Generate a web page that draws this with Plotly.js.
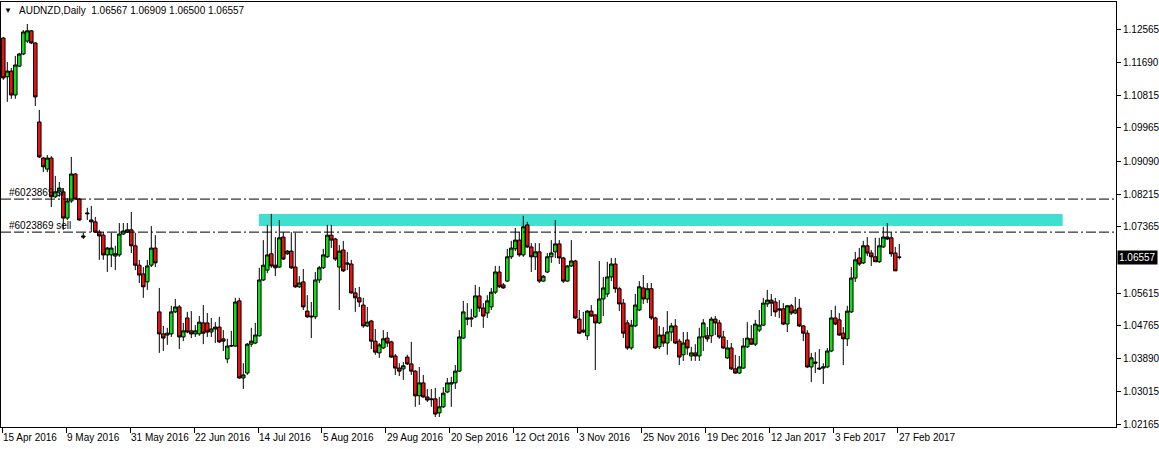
<!DOCTYPE html>
<html>
<head>
<meta charset="utf-8">
<script src="https://cdn.plot.ly/plotly-3.0.1.min.js"></script>
<style>html,body{margin:0;padding:0;background:#fff;}#chart{width:1159px;height:449px;}</style>
</head>
<body>
<div id="chart"></div>
<script>
const symbolTitle = "AUDNZD,Daily  1.06567 1.06909 1.06500 1.06557";
const lastPrice = 1.06557;
const slPrice = 1.0809;
const sellPrice = 1.0722;
const slLabel = "#6023869 sl";
const sellLabel = "#6023869 sell";
const zoneTop = 1.0770;
const zoneBottom = 1.0738;
const zoneStartBar = 63.9;
const zoneEndBar = 264.85;

const dateLabels = ["15 Apr 2016","9 May 2016","31 May 2016","22 Jun 2016","14 Jul 2016","5 Aug 2016","29 Aug 2016","20 Sep 2016","12 Oct 2016","3 Nov 2016","25 Nov 2016","19 Dec 2016","12 Jan 2017","3 Feb 2017","27 Feb 2017"];
const dateLabelBars = [0,16,32,48,64,80,96,112,128,144,160,176,192,208,224];

const priceTicks = [1.12565,1.11690,1.10815,1.09965,1.09090,1.08215,1.07365,1.05615,1.04765,1.03890,1.03015,1.02165];
const priceTickText = ["1.12565","1.11690","1.10815","1.09965","1.09090","1.08215","1.07365","1.05615","1.04765","1.03890","1.03015","1.02165"];

const open = [
1.1233,1.1131,1.1146,1.1083,1.1159,1.1191,1.1225,1.1252,1.1220,1.1012,1.0917,1.0888,1.0917,1.0815,1.0828,
1.0828,1.0759,1.0804,1.0875,1.0809,1.0712,1.0770,1.0754,1.0749,1.0722,1.0714,1.0662,1.0662,1.0659,1.0662,
1.0717,1.0722,1.0728,1.0686,1.0635,1.0612,1.0591,1.0635,1.0680,1.0512,1.0454,1.0451,1.0454,1.0512,1.0525,
1.0446,1.0496,1.0462,1.0454,1.0454,1.0483,1.0483,1.0459,1.0467,1.0472,1.0441,1.0388,1.0422,1.0422,1.0541,
1.0338,1.0351,1.0427,1.0430,1.0449,1.0596,1.0622,1.0665,1.0635,1.0630,1.0709,1.0665,1.0672,1.0630,1.0578,
1.0591,1.0514,1.0501,1.0499,1.0596,1.0628,1.0657,1.0714,1.0704,1.0630,1.0675,1.0641,1.0638,1.0562,1.0549,
1.0530,1.0475,1.0488,1.0435,1.0404,1.0417,1.0443,1.0433,1.0396,1.0364,1.0362,1.0393,1.0375,1.0356,1.0291,
1.0325,1.0288,1.0283,1.0283,1.0246,1.0262,1.0301,1.0322,1.0325,1.0356,1.0443,1.0496,1.0493,1.0499,1.0554,
1.0522,1.0509,1.0525,1.0564,1.0617,1.0583,1.0593,1.0657,1.0678,1.0701,1.0662,1.0741,1.0683,1.0657,1.0670,
1.0593,1.0617,1.0657,1.0670,1.0691,1.0654,1.0593,1.0633,1.0646,1.0493,1.0464,1.0449,1.0514,1.0504,1.0483,
1.0546,1.0559,1.0604,1.0638,1.0573,1.0535,1.0483,1.0417,1.0475,1.0517,1.0575,1.0546,1.0573,1.0496,1.0420,
1.0451,1.0430,1.0459,1.0475,1.0435,1.0399,1.0438,1.0396,1.0404,1.0396,1.0446,1.0449,1.0449,1.0493,1.0483,
1.0446,1.0391,1.0417,1.0362,1.0351,1.0364,1.0420,1.0441,1.0427,1.0464,1.0477,1.0533,1.0543,1.0538,1.0520,
1.0520,1.0480,1.0528,1.0509,1.0522,1.0475,1.0456,1.0367,1.0380,1.0364,1.0364,1.0367,1.0409,1.0496,1.0491,
1.0456,1.0441,1.0512,1.0601,1.0654,1.0641,1.0686,1.0667,1.0657,1.0644,1.0683,1.0709,1.0707,1.0667,1.06567];

const high = [
1.1236,1.1170,1.1154,1.1186,1.1194,1.1254,1.1270,1.1254,1.1222,1.1044,1.0920,1.0925,1.0922,1.0870,1.0854,
1.0838,1.0812,1.0920,1.0877,1.0812,1.0720,1.0786,1.0791,1.0762,1.0728,1.0722,1.0683,1.0720,1.0686,1.0746,
1.0746,1.0746,1.0775,1.0720,1.0649,1.0630,1.0649,1.0738,1.0714,1.0575,1.0475,1.0470,1.0528,1.0546,1.0530,
1.0483,1.0512,1.0514,1.0477,1.0501,1.0530,1.0509,1.0496,1.0485,1.0499,1.0464,1.0441,1.0462,1.0549,1.0549,
1.0377,1.0430,1.0470,1.0483,1.0628,1.0701,1.0741,1.0770,1.0709,1.0754,1.0722,1.0675,1.0722,1.0720,1.0606,
1.0625,1.0556,1.0538,1.0617,1.0633,1.0678,1.0741,1.0741,1.0707,1.0688,1.0699,1.0670,1.0649,1.0575,1.0578,
1.0549,1.0525,1.0491,1.0467,1.0430,1.0464,1.0459,1.0436,1.0401,1.0377,1.0380,1.0399,1.0433,1.0359,1.0367,
1.0346,1.0309,1.0309,1.0312,1.0288,1.0314,1.0338,1.0341,1.0372,1.0464,1.0541,1.0535,1.0520,1.0583,1.0578,
1.0535,1.0556,1.0575,1.0633,1.0633,1.0588,1.0678,1.0699,1.0733,1.0722,1.0765,1.0749,1.0693,1.0693,1.0693,
1.0609,1.0667,1.0701,1.0754,1.0701,1.0657,1.0635,1.0701,1.0649,1.0517,1.0512,1.0517,1.0530,1.0506,1.0646,
1.0604,1.0644,1.0654,1.0654,1.0578,1.0546,1.0491,1.0491,1.0559,1.0593,1.0609,1.0588,1.0588,1.0499,1.0475,
1.0472,1.0514,1.0483,1.0493,1.0441,1.0459,1.0459,1.0420,1.0427,1.0470,1.0493,1.0472,1.0499,1.0501,1.0491,
1.0462,1.0438,1.0430,1.0399,1.0396,1.0443,1.0485,1.0477,1.0491,1.0517,1.0549,1.0570,1.0559,1.0549,1.0543,
1.0535,1.0530,1.0533,1.0551,1.0546,1.0477,1.0464,1.0404,1.0406,1.0414,1.0377,1.0417,1.0517,1.0528,1.0509,
1.0472,1.0528,1.0630,1.0670,1.0680,1.0699,1.0709,1.0675,1.0707,1.0707,1.0736,1.0746,1.0722,1.0683,1.06909];

const low = [
1.1123,1.1065,1.1073,1.1073,1.1157,1.1188,1.1220,1.1217,1.1054,1.0917,1.0880,1.0880,1.0788,1.0812,1.0815,
1.0728,1.0754,1.0799,1.0807,1.0752,1.0704,1.0754,1.0722,1.0720,1.0649,1.0649,1.0617,1.0630,1.0622,1.0657,
1.0714,1.0720,1.0667,1.0622,1.0588,1.0549,1.0570,1.0630,1.0630,1.0404,1.0409,1.0425,1.0446,1.0509,1.0414,
1.0435,1.0456,1.0443,1.0446,1.0449,1.0427,1.0446,1.0446,1.0430,1.0430,1.0409,1.0377,1.0420,1.0420,1.0336,
1.0309,1.0346,1.0420,1.0427,1.0447,1.0593,1.0614,1.0628,1.0606,1.0628,1.0649,1.0662,1.0625,1.0575,1.0575,
1.0517,1.0496,1.0443,1.0493,1.0588,1.0625,1.0654,1.0680,1.0646,1.0517,1.0617,1.0622,1.0560,1.0512,1.0525,
1.0470,1.0472,1.0414,1.0399,1.0391,1.0414,1.0420,1.0391,1.0346,1.0343,1.0333,1.0372,1.0346,1.0262,1.0267,
1.0286,1.0275,1.0262,1.0235,1.0235,1.0259,1.0298,1.0262,1.0309,1.0354,1.0441,1.0477,1.0472,1.0496,1.0512,
1.0470,1.0496,1.0517,1.0559,1.0575,1.0573,1.0591,1.0651,1.0672,1.0657,1.0657,1.0680,1.0617,1.0622,1.0588,
1.0591,1.0614,1.0641,1.0654,1.0638,1.0588,1.0591,1.0630,1.0493,1.0454,1.0456,1.0438,1.0499,1.0359,1.0480,
1.0501,1.0551,1.0593,1.0562,1.0514,1.0443,1.0412,1.0412,1.0472,1.0514,1.0533,1.0535,1.0491,1.0414,1.0414,
1.0420,1.0399,1.0435,1.0427,1.0372,1.0383,1.0399,1.0383,1.0383,1.0383,1.0409,1.0433,1.0430,1.0451,1.0441,
1.0414,1.0388,1.0359,1.0349,1.0349,1.0362,1.0417,1.0425,1.0422,1.0459,1.0475,1.0525,1.0501,1.0499,1.0496,
1.0477,1.0459,1.0504,1.0506,1.0472,1.0435,1.0364,1.0327,1.0351,1.0359,1.0322,1.0364,1.0406,1.0477,1.0449,
1.0372,1.0422,1.0509,1.0591,1.0633,1.0638,1.0659,1.0633,1.0644,1.0641,1.0680,1.0701,1.0657,1.0620,1.06500];

const close = [
1.1128,1.1146,1.1083,1.1162,1.1191,1.1249,1.1252,1.1220,1.1078,1.0920,1.0894,1.0917,1.0815,1.0828,1.0838,
1.0759,1.0804,1.0875,1.0809,1.0754,1.0709,1.0772,1.0749,1.0722,1.0712,1.0662,1.0680,1.0680,1.0665,1.0717,
1.0725,1.0728,1.0686,1.0635,1.0609,1.0578,1.0633,1.0680,1.0641,1.0454,1.0443,1.0456,1.0512,1.0525,1.0446,
1.0462,1.0459,1.0454,1.0462,1.0485,1.0456,1.0459,1.0467,1.0472,1.0433,1.0435,1.0422,1.0423,1.0538,1.0338,
1.0346,1.0427,1.0435,1.0451,1.0596,1.0635,1.0662,1.0633,1.0628,1.0707,1.0651,1.0672,1.0628,1.0578,1.0588,
1.0525,1.0499,1.0499,1.0596,1.0628,1.0662,1.0714,1.0701,1.0651,1.0672,1.0620,1.0638,1.0562,1.0549,1.0538,
1.0475,1.0485,1.0435,1.0406,1.0425,1.0441,1.0430,1.0393,1.0364,1.0356,1.0370,1.0375,1.0356,1.0291,1.0325,
1.0288,1.0280,1.0281,1.0243,1.0262,1.0298,1.0325,1.0325,1.0356,1.0446,1.0512,1.0493,1.0496,1.0554,1.0522,
1.0501,1.0541,1.0564,1.0617,1.0578,1.0575,1.0657,1.0680,1.0701,1.0662,1.0736,1.0683,1.0657,1.0670,1.0593,
1.0606,1.0657,1.0667,1.0691,1.0654,1.0593,1.0633,1.0646,1.0496,1.0456,1.0459,1.0514,1.0501,1.0483,1.0546,
1.0575,1.0604,1.0638,1.0573,1.0533,1.0456,1.0417,1.0477,1.0530,1.0578,1.0546,1.0573,1.0496,1.0417,1.0451,
1.0430,1.0459,1.0475,1.0430,1.0393,1.0430,1.0417,1.0404,1.0396,1.0446,1.0483,1.0441,1.0493,1.0483,1.0446,
1.0417,1.0417,1.0362,1.0351,1.0367,1.0422,1.0443,1.0427,1.0480,1.0477,1.0535,1.0543,1.0535,1.0512,1.0517,
1.0480,1.0528,1.0509,1.0517,1.0475,1.0456,1.0367,1.0391,1.0377,1.0362,1.0367,1.0409,1.0496,1.0480,1.0451,
1.0441,1.0514,1.0601,1.0649,1.0638,1.0686,1.0667,1.0657,1.0644,1.0686,1.0709,1.0704,1.0665,1.0620,1.06557];

const barIndex = open.map((_, i) => i);
const FONT = "Liberation Sans, Arial, sans-serif";

const trace = {
  type: "candlestick",
  x: barIndex, open: open, high: high, low: low, close: close,
  increasing: {line: {color: "#000000", width: 1}, fillcolor: "#10E010"},
  decreasing: {line: {color: "#000000", width: 1}, fillcolor: "#F01010"},
  whiskerwidth: 0,
  hoverinfo: "skip",
  showlegend: false
};

const annotations = [];
annotations.push({xref:"paper", yref:"paper", x:0, y:1, xanchor:"left", yanchor:"middle", xshift:1, yshift:-8,
  text:"▼", showarrow:false, font:{family:FONT, size:8, color:"#000"}});
annotations.push({xref:"paper", yref:"paper", x:0, y:1, xanchor:"left", yanchor:"middle", xshift:16, yshift:-8,
  text:symbolTitle, showarrow:false, font:{family:FONT, size:10, color:"#000"}});
annotations.push({xref:"paper", yref:"y", x:0, y:slPrice, xanchor:"left", yanchor:"bottom", xshift:6, yshift:-1,
  text:slLabel, showarrow:false, font:{family:FONT, size:10, color:"#000"}});
annotations.push({xref:"paper", yref:"y", x:0, y:sellPrice, xanchor:"left", yanchor:"bottom", xshift:6, yshift:-1,
  text:sellLabel, showarrow:false, font:{family:FONT, size:10, color:"#000"}});
dateLabels.forEach((t, k) => {
  annotations.push({xref:"x", yref:"paper", x:dateLabelBars[k] - 0.325, y:0, xanchor:"left", yanchor:"middle",
    xshift:-1, yshift:-10.5, text:t, showarrow:false, font:{family:FONT, size:10, color:"#000"}});
});
annotations.push({xref:"paper", yref:"y", x:1, y:lastPrice, xanchor:"left", yanchor:"middle", xshift:1,
  text:lastPrice.toFixed(5), showarrow:false, bgcolor:"#000000", borderpad:1,
  font:{family:FONT, size:10, color:"#ffffff"}});

const layout = {
  width: 1159, height: 449,
  margin: {l: 1, r: 43, t: 2, b: 22, pad: 0},
  paper_bgcolor: "#ffffff", plot_bgcolor: "#ffffff",
  showlegend: false,
  boxgap: 0.12, boxgroupgap: 0,
  xaxis: {
    range: [-0.575, 278.18], showgrid: false, zeroline: false,
    rangeslider: {visible: false}, showline: true, mirror: true,
    linecolor: "#000", linewidth: 1, ticks: "outside", ticklen: 5, tickcolor: "#000",
    tickvals: dateLabelBars.map(v => v - 0.325), showticklabels: false, fixedrange: true
  },
  yaxis: {
    side: "right", range: [1.02089, 1.13279], showgrid: false, zeroline: false,
    showline: true, mirror: true, linecolor: "#000", linewidth: 1,
    ticks: "outside", ticklen: 4, tickcolor: "#000",
    tickvals: priceTicks, ticktext: priceTickText,
    tickfont: {family: FONT, size: 10, color: "#000"}, fixedrange: true
  },
  shapes: [
    {type:"rect", xref:"x", yref:"y", x0:zoneStartBar, x1:zoneEndBar, y0:zoneBottom, y1:zoneTop,
     fillcolor:"#40E0D0", line:{width:0}, layer:"below"},
    {type:"line", xref:"paper", yref:"y", x0:0, x1:1, y0:slPrice, y1:slPrice,
     line:{color:"#000", width:1, dash:"10px,3px,10px,3px,2px,3px"}, layer:"above"},
    {type:"line", xref:"paper", yref:"y", x0:0, x1:1, y0:sellPrice, y1:sellPrice,
     line:{color:"#000", width:1, dash:"10px,3px,10px,3px,2px,3px"}, layer:"above"}
  ],
  annotations: annotations
};

Plotly.newPlot("chart", [trace], layout, {staticPlot: true, displayModeBar: false});
</script>
</body>
</html>
